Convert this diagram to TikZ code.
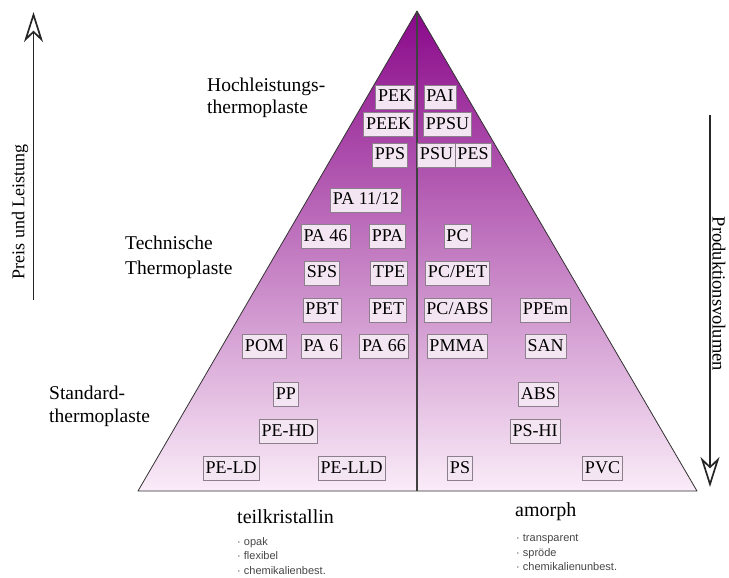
\documentclass[tikz,border=0pt]{standalone}
\usepackage{fontspec}
\setmainfont{Liberation Serif}
\newfontfamily\notefont{Liberation Sans}
\usepackage{tikz}
\usetikzlibrary{arrows.meta,positioning}
\definecolor{pyrtop}{RGB}{138,8,138}
\definecolor{pyrmid}{RGB}{192,104,184}
\definecolor{pyrbot}{RGB}{250,236,248}
\definecolor{boxfill}{RGB}{244,229,242}
\definecolor{boxline}{RGB}{140,128,140}
\definecolor{notegray}{RGB}{70,70,70}

\begin{document}
\begin{tikzpicture}[
  x=1pt, y=-1pt,
  polymer/.style={draw=boxline, fill=boxfill, line width=0.6pt, inner xsep=2.5pt, inner ysep=0pt, minimum height=24pt, text height=12.5pt, text depth=3.5pt, font=\fontsize{18}{20}\selectfont},
  grouplabel/.style={anchor=north west, inner sep=0pt, align=left, font=\fontsize{19.5}{22.5}\selectfont},
  classlabel/.style={anchor=base west, inner sep=0pt, font=\fontsize{20}{22}\selectfont},
  props/.style={anchor=north west, inner sep=0pt, align=left, text=notegray, font=\notefont\fontsize{11}{14.5}\selectfont},
  scalearrow/.style={line width=1.3pt, black!85, -{Stealth[open, length=30pt, width=19pt, inset=9pt, line width=1.7pt]}},
]
  \useasboundingbox (0,0) rectangle (729,578);

  % Pyramid
  \coordinate (apex) at (417,11);
  \coordinate (baseL) at (138,491);
  \coordinate (baseR) at (697,491);
  \coordinate (baseM) at (417,491);
  \shade[top color=pyrtop, middle color=pyrmid, bottom color=pyrbot] (apex) -- (baseR) -- (baseL) -- cycle;
  \draw[black!80, line width=0.8pt, line join=round] (apex) -- (baseR) -- (baseL) -- cycle;
  \draw[black!75, line width=1.5pt] (apex) -- (baseM);

  % Group labels
  \node[grouplabel] (hlt) at (207,77.4) {Hochleistungs-\\thermoplaste};
  \node[grouplabel, font=\fontsize{19.5}{25}\selectfont] (tt) at (125,235.5) {Technische\\Thermoplaste};
  \node[grouplabel] (st) at (49,386) {Standard-\\thermoplaste};

  % High performance
  \node[polymer] (pek) at (395,97.5) {PEK};
  \node[polymer] (pai) at (440,97.5) {PAI};
  \node[polymer] (peek) at (388.5,124.5) {PEEK};
  \node[polymer] (ppsu) at (447.5,124.5) {PPSU};
  \node[polymer] (pps) at (390,155.5) {PPS};
  \node[polymer] (psu) at (436.5,155.5) {PSU};
  \node[polymer] (pes) at (473,155.5) {PES};

  % Engineering
  \node[polymer] (pa1112) at (366,200) {PA 11/12};
  \node[polymer] (pa46) at (325.5,236.5) {PA 46};
  \node[polymer] (ppa) at (387.5,236.5) {PPA};
  \node[polymer] (pc) at (457.5,236.5) {PC};
  \node[polymer] (sps) at (322,273) {SPS};
  \node[polymer] (tpe) at (389,273) {TPE};
  \node[polymer] (pcpet) at (457.5,273) {PC/PET};
  \node[polymer] (pbt) at (322,310) {PBT};
  \node[polymer] (pet) at (388,310) {PET};
  \node[polymer] (pcabs) at (457.5,310) {PC/ABS};
  \node[polymer] (ppem) at (545.5,310) {PPEm};
  \node[polymer] (pom) at (264.5,346.5) {POM};
  \node[polymer] (pa6) at (321,346.5) {PA 6};
  \node[polymer] (pa66) at (384,346.5) {PA 66};
  \node[polymer] (pmma) at (457,346.5) {PMMA};
  \node[polymer] (san) at (545.5,346.5) {SAN};

  % Standard
  \node[polymer] (pp) at (286,394.5) {PP};
  \node[polymer] (abs) at (538.5,394.5) {ABS};
  \node[polymer] (pehd) at (288,431.5) {PE-HD};
  \node[polymer] (pshi) at (535,431.5) {PS-HI};
  \node[polymer] (peld) at (231,468.5) {PE-LD};
  \node[polymer] (pelld) at (351.5,468.5) {PE-LLD};
  \node[polymer] (ps) at (460,468.5) {PS};
  \node[polymer] (pvc) at (602.5,468.5) {PVC};

  % Scales
  \coordinate (pl-bot) at (33.5,300);
  \coordinate (pl-top) at (33.5,12);
  \draw[scalearrow] (pl-bot) -- (pl-top);
  \node[rotate=90, font=\fontsize{18}{20}\selectfont] (pl) at (20,212) {Preis und Leistung};
  \coordinate (pv-top) at (710,115);
  \coordinate (pv-bot) at (710,487);
  \draw[scalearrow] (pv-top) -- (pv-bot);
  \node[rotate=-90, font=\fontsize{18.5}{20}\selectfont] (pv) at (719,294) {Produktionsvolumen};

  % Structure
  \node[classlabel] (tk) at (237,523) {teilkristallin};
  \node[props] (tkprops) at (237,537) {· opak\\· flexibel\\· chemikalienbest.};
  \node[classlabel] (am) at (515,516) {amorph};
  \node[props] (amprops) at (516,534.3) {· transparent\\· spröde\\· chemikalienunbest.};
\end{tikzpicture}
\end{document}
